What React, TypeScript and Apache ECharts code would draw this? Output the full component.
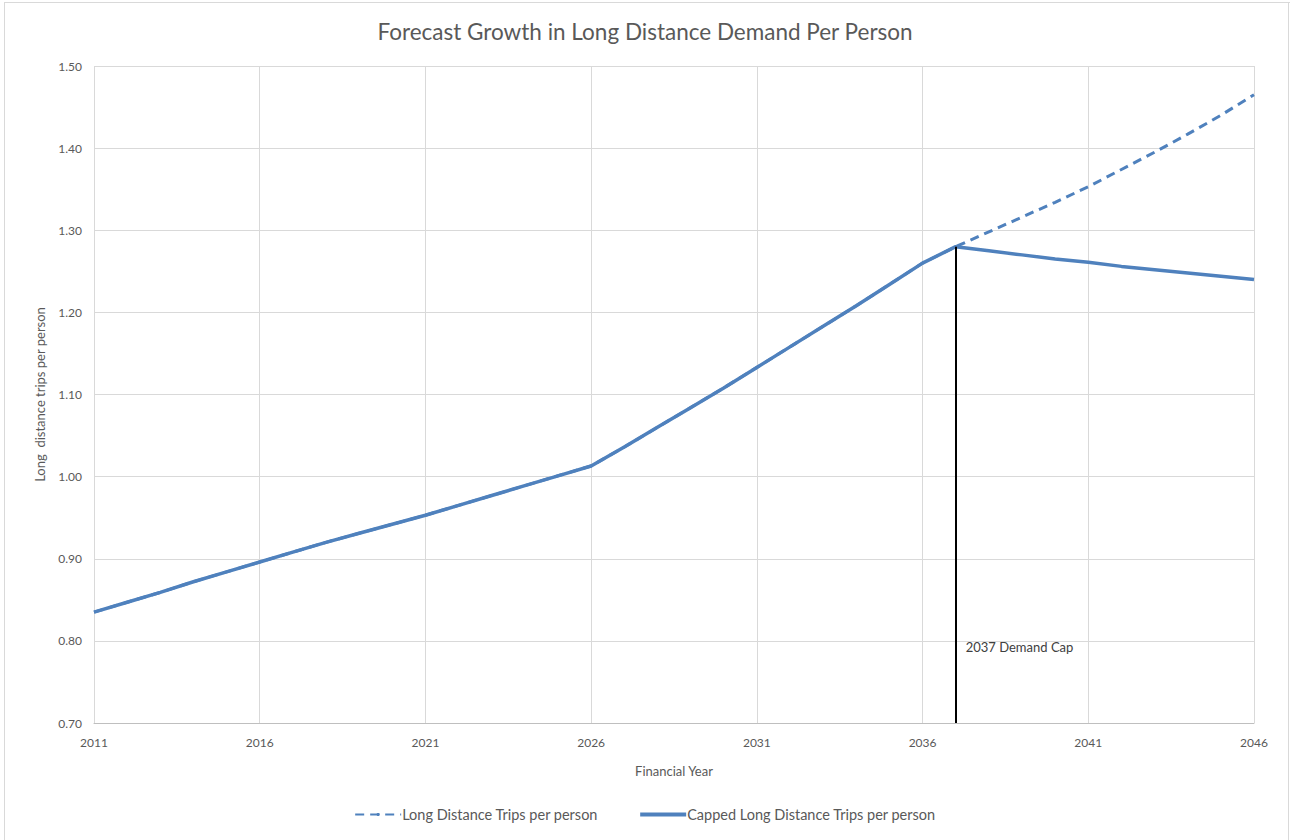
import React, { useEffect, useRef } from "react";
import * as echarts from "echarts";

const years: string[] = [
  "2011", "2012", "2013", "2014", "2015", "2016", "2017", "2018", "2019", "2020",
  "2021", "2022", "2023", "2024", "2025", "2026", "2027", "2028", "2029", "2030",
  "2031", "2032", "2033", "2034", "2035", "2036", "2037", "2038", "2039", "2040",
  "2041", "2042", "2043", "2044", "2045", "2046",
];

const uncapped: number[] = [
  0.835, 0.847, 0.859, 0.872, 0.884, 0.896, 0.908, 0.920, 0.931, 0.942,
  0.953, 0.965, 0.977, 0.989, 1.001, 1.013, 1.036, 1.060, 1.084, 1.108,
  1.133, 1.158, 1.183, 1.208, 1.234, 1.260, 1.280, 1.298, 1.316, 1.334,
  1.353, 1.374, 1.395, 1.417, 1.440, 1.465,
];

const capped: number[] = [
  0.835, 0.847, 0.859, 0.872, 0.884, 0.896, 0.908, 0.920, 0.931, 0.942,
  0.953, 0.965, 0.977, 0.989, 1.001, 1.013, 1.036, 1.060, 1.084, 1.108,
  1.133, 1.158, 1.183, 1.208, 1.234, 1.260, 1.280, 1.275, 1.270, 1.265,
  1.261, 1.256, 1.252, 1.248, 1.244, 1.240,
];

const capYear = "2037";
const capValue = 1.28;
const capLabel = "2037 Demand Cap";
const yMin = 0.7;
const yMax = 1.5;
const yStep = 0.1;

const FONT = "Lato";
const LINE_COLOR = "#4F81BD";
const TEXT_COLOR = "#595959";

export default function App() {
  const ref = useRef<HTMLDivElement>(null);

  useEffect(() => {
    document.body.style.margin = "0";
    if (!ref.current) return;
    const chart = echarts.init(ref.current, null, { renderer: "svg" });
    chart.setOption({
      animation: false,
      backgroundColor: "#ffffff",
      textStyle: { fontFamily: FONT },
      title: {
        text: "Forecast Growth in Long Distance Demand Per Person",
        left: "center",
        top: 15,
        textStyle: { fontFamily: FONT, fontSize: 22.5, fontWeight: "normal", color: TEXT_COLOR },
      },
      graphic: [
        { type: "line", shape: { x1: 4, y1: 2.5, x2: 1290, y2: 2.5 }, style: { stroke: "#d9d9d9", lineWidth: 1 }, silent: true },
        { type: "line", shape: { x1: 4.5, y1: 2, x2: 4.5, y2: 840 }, style: { stroke: "#d9d9d9", lineWidth: 1 }, silent: true },
        { type: "line", shape: { x1: 1288.5, y1: 2, x2: 1288.5, y2: 840 }, style: { stroke: "#d9d9d9", lineWidth: 1 }, silent: true },
      ],
      legend: {
        bottom: 13,
        left: "center",
        itemWidth: 46,
        itemHeight: 4,
        itemGap: 42,
        textStyle: { fontFamily: FONT, fontSize: 14.5, color: TEXT_COLOR, padding: [0, 0, 0, -4] },
        data: [
          { name: "Long Distance Trips per person" },
          { name: "Capped Long Distance Trips per person", icon: "rect" },
        ],
      },
      grid: { left: 94, right: 36, top: 66, bottom: 117, containLabel: false },
      xAxis: {
        type: "category",
        data: years,
        boundaryGap: false,
        name: "Financial Year",
        nameLocation: "middle",
        nameGap: 41,
        nameTextStyle: { fontFamily: FONT, fontSize: 13, color: TEXT_COLOR },
        axisLine: { show: true, lineStyle: { color: "#bfbfbf", width: 1 } },
        axisTick: { show: false },
        axisLabel: { interval: 4, margin: 13, fontFamily: FONT, fontSize: 12, color: TEXT_COLOR },
        splitLine: { show: true, interval: 4, lineStyle: { color: "#d9d9d9", width: 1 } },
      },
      yAxis: {
        type: "value",
        min: yMin,
        max: yMax,
        interval: yStep,
        name: "Long  distance trips per person",
        nameLocation: "middle",
        nameGap: 48,
        nameTextStyle: { fontFamily: FONT, fontSize: 13, color: TEXT_COLOR },
        axisLine: { show: false },
        axisTick: { show: false },
        axisLabel: {
          margin: 12,
          fontFamily: FONT,
          fontSize: 12,
          color: TEXT_COLOR,
          formatter: (v: number) => v.toFixed(2),
        },
        splitLine: { show: true, lineStyle: { color: "#d9d9d9", width: 1 } },
      },
      series: [
        {
          name: "Long Distance Trips per person",
          type: "line",
          data: uncapped,
          showSymbol: false,
          symbol: "none",
          z: 2,
          lineStyle: { color: LINE_COLOR, width: 3, type: [9, 6] },
          itemStyle: { color: LINE_COLOR },
        },
        {
          name: "Capped Long Distance Trips per person",
          type: "line",
          data: capped,
          showSymbol: false,
          symbol: "none",
          z: 3,
          lineStyle: { color: LINE_COLOR, width: 3.5 },
          itemStyle: { color: LINE_COLOR },
          markLine: {
            silent: true,
            symbol: "none",
            label: { show: false },
            lineStyle: { color: "#000000", width: 2, type: "solid" },
            data: [[{ coord: [capYear, yMin] }, { coord: [capYear, capValue] }]],
          },
          markPoint: {
            silent: true,
            symbol: "circle",
            symbolSize: 0,
            itemStyle: { color: "transparent" },
            label: {
              show: true,
              position: "right",
              distance: 10,
              formatter: capLabel,
              fontFamily: FONT,
              fontSize: 13,
              color: "#404040",
            },
            data: [{ coord: [capYear, 0.7926] }],
          },
        },
      ],
    });
    return () => chart.dispose();
  }, []);

  return <div ref={ref} style={{ width: 1290, height: 840 }} />;
}
